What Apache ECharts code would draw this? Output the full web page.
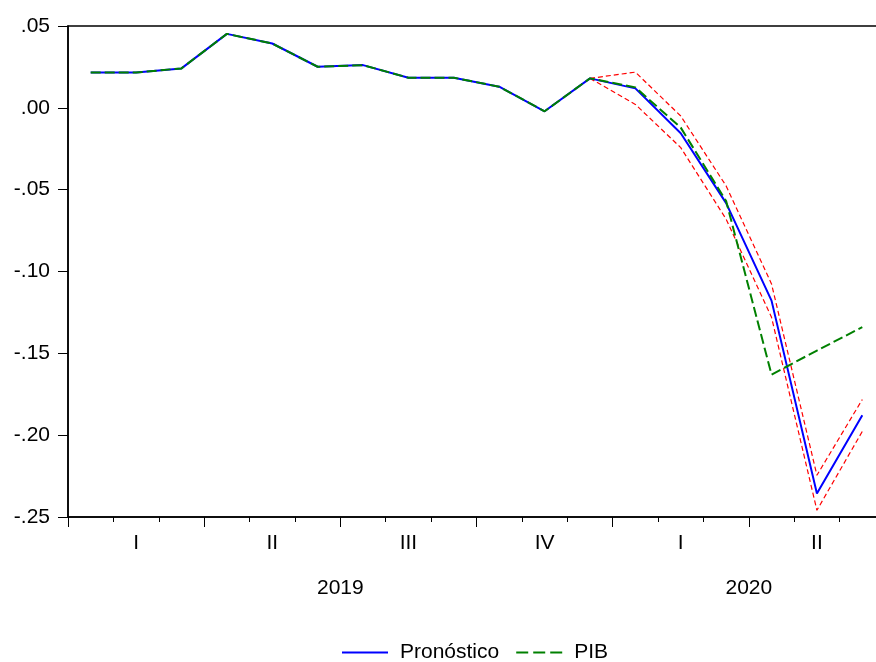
<!DOCTYPE html>
<html>
<head>
<meta charset="utf-8">
<script src="https://cdn.jsdelivr.net/npm/echarts@6/dist/echarts.min.js"></script>
<style>html,body{margin:0;padding:0;background:#fff}#c{width:876px;height:662px}</style>
</head>
<body>
<div id="c"></div>
<script>
var months = ['2019M01','2019M02','2019M03','2019M04','2019M05','2019M06','2019M07','2019M08','2019M09','2019M10','2019M11','2019M12','2020M01','2020M02','2020M03','2020M04','2020M05','2020M06'];
var quarterLabels = ['I','II','III','IV','I','II'];
var yearLabels = {6: '2019', 15: '2020'};
var pib = [0.0216, 0.0216, 0.0241, 0.0452, 0.0393, 0.0251, 0.0261, 0.0184, 0.0184, 0.0129, -0.0021, 0.0180, 0.0125, -0.0121, -0.0570, -0.1630, -0.1483, -0.1340];
var pronostico = [0.0216, 0.0216, 0.0241, 0.0452, 0.0393, 0.0251, 0.0261, 0.0184, 0.0184, 0.0129, -0.0021, 0.0180, 0.0119, -0.0155, -0.0582, -0.1178, -0.2357, -0.1879];
var upper = [null, null, null, null, null, null, null, null, null, null, null, 0.0180, 0.0218, -0.0050, -0.0477, -0.1076, -0.2245, -0.1782];
var lower = [null, null, null, null, null, null, null, null, null, null, null, 0.0180, 0.0021, -0.0243, -0.0680, -0.1280, -0.2459, -0.1977];
var yTicks = {min: -0.25, max: 0.05, step: 0.05};

var FONT = "'Liberation Sans', Arial, sans-serif";
var FS = 21;
var chart = echarts.init(document.getElementById('c'));
chart.setOption({
  animation: false,
  backgroundColor: '#fff',
  textStyle: {fontFamily: FONT},
  grid: {left: 68, top: 26, width: 817, height: 491, outerBoundsMode: 'none', containLabel: false,
         show: true, borderColor: '#000', borderWidth: 1.5, backgroundColor: 'transparent'},
  legend: {
    left: 337, top: 637, itemWidth: 46, itemHeight: 14, itemGap: 17, symbolKeepAspect: true,
    data: [
      {name: 'Pronóstico', icon: 'path://M0,0 L46,0 L46,2 L0,2 Z'},
      {name: 'PIB', icon: 'path://M0,0 L12,0 L12,2 L0,2 Z M17,0 L29,0 L29,2 L17,2 Z M34,0 L46,0 L46,2 L34,2 Z'}
    ],
    textStyle: {fontFamily: FONT, fontSize: FS, color: '#000', padding: [0, 0, 0, 7]}
  },
  xAxis: [
    {
      type: 'category', data: months, boundaryGap: true, position: 'bottom',
      axisLine: {onZero: false, lineStyle: {color: '#000', width: 1.5}},
      axisTick: {show: true, interval: 0, length: 5, lineStyle: {color: '#000'}},
      axisLabel: {
        interval: function (i) { return i % 3 === 1; },
        formatter: function (v, i) { return quarterLabels[Math.floor(i / 3)]; },
        fontFamily: FONT, fontSize: FS, color: '#000', margin: 16
      },
      splitLine: {show: false}
    },
    {
      type: 'category', data: months, boundaryGap: true, position: 'bottom',
      axisLine: {show: false, onZero: false},
      axisTick: {show: true, interval: function (i) { return i % 3 === 0; }, length: 10, lineStyle: {color: '#000'}},
      axisLabel: {show: false},
      splitLine: {show: false}
    },
    {
      type: 'value', min: 0, max: months.length, interval: 3, position: 'bottom',
      axisLine: {show: false, onZero: false}, axisTick: {show: false}, splitLine: {show: false},
      axisLabel: {
        formatter: function (v) { return yearLabels[v] || ''; },
        fontFamily: FONT, fontSize: FS, color: '#000', margin: 61
      }
    }
  ],
  yAxis: {
    type: 'value', min: yTicks.min, max: yTicks.max, interval: yTicks.step,
    axisLine: {show: true, onZero: false, lineStyle: {color: '#000', width: 1.5}},
    axisTick: {show: true, length: 10, lineStyle: {color: '#000'}},
    splitLine: {show: false},
    axisLabel: {
      formatter: function (v) { return (Math.round(v * 100) / 100).toFixed(2).replace('0.', '.'); },
      fontFamily: FONT, fontSize: FS, color: '#000', margin: 18
    }
  },
  series: [
    {name: 'upper', type: 'line', data: upper, symbol: 'none', xAxisIndex: 0,
     lineStyle: {color: '#ff0000', width: 1.2, type: [5, 3]}, itemStyle: {color: '#ff0000'}},
    {name: 'lower', type: 'line', data: lower, symbol: 'none', xAxisIndex: 0,
     lineStyle: {color: '#ff0000', width: 1.2, type: [5, 3]}, itemStyle: {color: '#ff0000'}},
    {name: 'Pronóstico', type: 'line', data: pronostico, symbol: 'none', xAxisIndex: 0,
     lineStyle: {color: '#0000ff', width: 2}, itemStyle: {color: '#0000ff'}},
    {name: 'PIB', type: 'line', data: pib, symbol: 'none', xAxisIndex: 0,
     lineStyle: {color: '#008000', width: 2, type: [10, 4]}, itemStyle: {color: '#008000'}}
  ]
});
</script>
</body>
</html>
